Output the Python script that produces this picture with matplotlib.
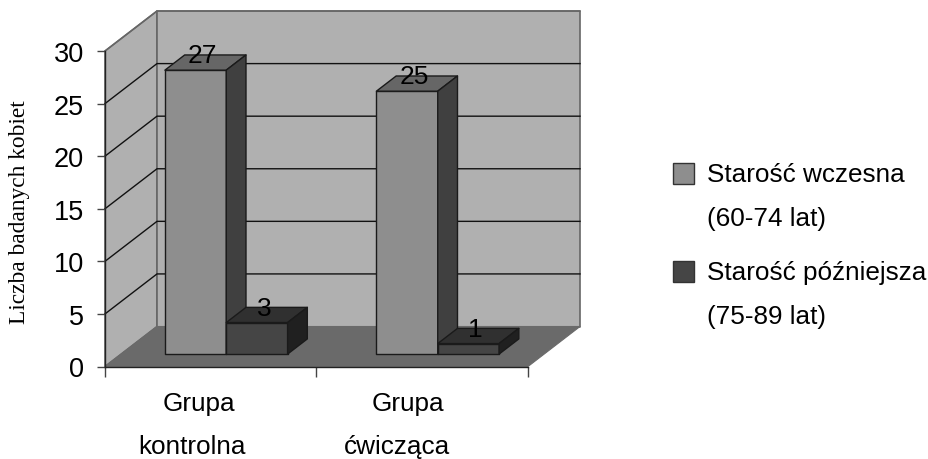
import matplotlib
matplotlib.use('Agg')
import matplotlib.pyplot as plt
from matplotlib.patches import Polygon, Rectangle

plt.rcParams['font.family'] = ['Liberation Sans', 'DejaVu Sans']

early = [27, 25]
late = [3, 1]
group_labels = [('Grupa', 'kontrolna'), ('Grupa', 'ćwicząca')]
legend_labels = [('Starość wczesna', '(60-74 lat)'), ('Starość późniejsza', '(75-89 lat)')]
y_ticks = [0, 5, 10, 15, 20, 25, 30]

W, H = 929, 460
fig = plt.figure(figsize=(W / 100, H / 100), dpi=100)
ax = fig.add_axes([105 / W, (H - 367.5) / H, 423 / W, 315.5 / H])
ax.set_xlim(0, len(early))
ax.set_ylim(0, 30)
ax.patch.set_visible(False)

# oblique depth of the fake 3d box, in data units
DX = 52 / 211.5
DY = 40 / 10.52


def pt(x, y, z=0):
    return (x + z * DX, y + z * DY)


def face(points, color, edge='#1a1a1a', lw=1.0, zorder=2):
    ax.add_patch(Polygon(points, closed=True, facecolor=color, edgecolor=edge,
                         linewidth=lw, clip_on=False, zorder=zorder, joinstyle='round'))


# walls and floor
wall = '#b0b0b0'
face([pt(0, 0, 0), pt(0, 0, 1), pt(0, 30, 1), pt(0, 30, 0)], wall, edge='#666666', lw=1.2, zorder=1)
face([pt(0, 0, 1), pt(2, 0, 1), pt(2, 30, 1), pt(0, 30, 1)], wall, edge='#666666', lw=1.2, zorder=1)
face([pt(0, 0, 0), pt(2, 0, 0), pt(2, 0, 1), pt(0, 0, 1)], '#6a6a6a', edge='#6a6a6a', lw=0.8, zorder=1)

for t in y_ticks[1:]:
    xs, ys = zip(pt(0, t, 0), pt(0, t, 1), pt(2, t, 1))
    ax.plot(xs, ys, color='#111111' if t < 30 else '#666666', lw=1.0, clip_on=False, zorder=1.5)

# bars
BAR_W = 0.29
GAP = 0.207
Z0, Z1 = 0.31, 0.69


def bar(x, v, front, top, side):
    face([pt(x, 0, Z0), pt(x + BAR_W, 0, Z0), pt(x + BAR_W, v, Z0), pt(x, v, Z0)], front, zorder=3)
    face([pt(x, v, Z0), pt(x + BAR_W, v, Z0), pt(x + BAR_W, v, Z1), pt(x, v, Z1)], top, zorder=3)
    face([pt(x + BAR_W, 0, Z0), pt(x + BAR_W, 0, Z1), pt(x + BAR_W, v, Z1), pt(x + BAR_W, v, Z0)], side, zorder=3)
    ax.annotate(str(v), xy=pt(x + BAR_W / 2, v, Z0), xytext=(7, 15), textcoords='offset pixels',
                ha='center', va='center', fontsize=19, color='black', zorder=6, annotation_clip=False)


for i in range(len(early)):
    bar(i + GAP, early[i], '#8e8e8e', '#666666', '#404040')
    bar(i + GAP + BAR_W, late[i], '#454545', '#303030', '#202020')

# axes
for s in ['top', 'right']:
    ax.spines[s].set_visible(False)
for s in ['left', 'bottom']:
    ax.spines[s].set_color('#222222')
    ax.spines[s].set_linewidth(1.0)
    ax.spines[s].set_zorder(4)
ax.set_yticks(y_ticks)
ax.tick_params(axis='y', labelsize=19.5, length=6, width=1, color='#444444', pad=9)
ax.set_xticks([0, 1, 2])
ax.set_xticklabels([])
ax.tick_params(axis='x', length=7, width=1, color='#444444')

line_offsets = [(-12, -19), (-14, -25)]
for i, (l1, l2) in enumerate(group_labels):
    ax.annotate(l1, xy=(i + 0.5, 0), xytext=(line_offsets[i][0], -37), textcoords='offset pixels',
                ha='center', va='center', fontsize=18.8)
    ax.annotate(l2, xy=(i + 0.5, 0), xytext=(line_offsets[i][1], -80), textcoords='offset pixels',
                ha='center', va='center', fontsize=18.8)

fig.text(20 / W, 1 - 212.5 / H, 'Liczba badanych kobiet', rotation=90, ha='center', va='center',
         fontsize=16.8, family='Liberation Serif')

# legend
legend_colors = ['#8e8e8e', '#454545']
legend_tops = [164, 262]
for lab, col, top in zip(legend_labels, legend_colors, legend_tops):
    fig.add_artist(Rectangle((673 / W, 1 - (top + 21) / H), 21 / W, 21 / H, facecolor=col,
                             edgecolor='#333333', linewidth=1, transform=fig.transFigure))
    fig.text(707 / W, 1 - (top + 11) / H, lab[0], fontsize=18.8, ha='left', va='center')
    fig.text(707 / W, 1 - (top + 55) / H, lab[1], fontsize=18.8, ha='left', va='center')

fig.savefig('out.png', dpi=100)
